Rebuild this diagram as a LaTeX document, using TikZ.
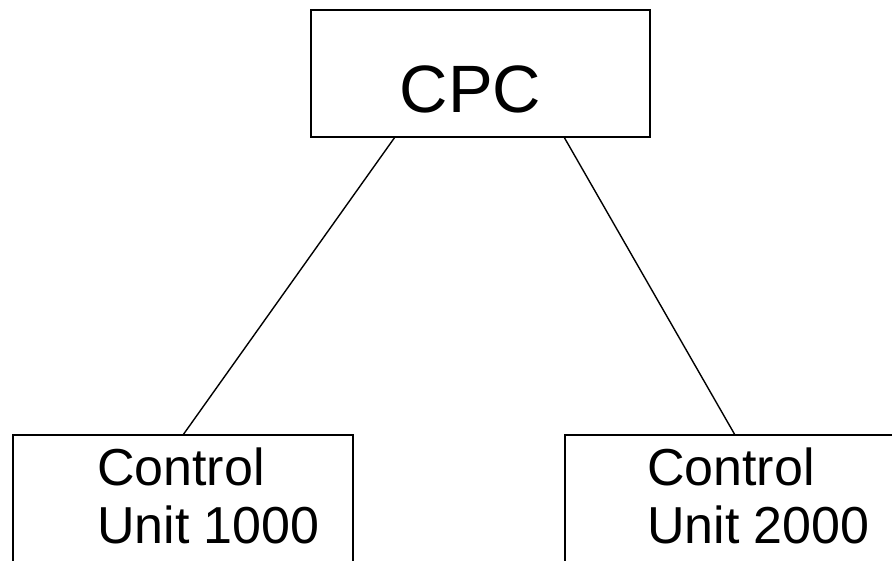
\documentclass[tikz,border=0pt]{standalone}
\usepackage{fontspec}
\setmainfont{Liberation Sans}
\begin{document}
\begin{tikzpicture}[x=1pt,y=-1pt,
  boxnode/.style={draw,line width=1.9pt,inner sep=0pt,outer sep=0pt},
  linkline/.style={line width=1.4pt},
  unittext/.style={inner sep=0pt,outer sep=0pt,align=left,anchor=north west,font=\fontsize{52}{58}\selectfont}]
\useasboundingbox (0,0) rectangle (892,561);
\clip (0,0) rectangle (892,561);
\node[boxnode,minimum width=339pt,minimum height=127pt] (cpc) at (480.5,73.5) {};
\node[boxnode,minimum width=340pt,minimum height=200pt] (cu1) at (183,535) {};
\node[boxnode,minimum width=400pt,minimum height=200pt] (cu2) at (765,535) {};
\node[inner sep=0pt,anchor=base,font=\fontsize{67}{70}\selectfont] (cpct) at (470.5,113) {CPC};
\node[unittext] (t1) at (97,448) {Control\\Unit 1000};
\node[unittext] (t2) at (647,448) {Control\\Unit 2000};
\draw[linkline] ([xshift=84pt]cpc.south west) -- ([xshift=170pt]cu1.north west);
\draw[linkline] ([xshift=253pt]cpc.south west) -- ([xshift=170pt]cu2.north west);
\end{tikzpicture}
\end{document}
